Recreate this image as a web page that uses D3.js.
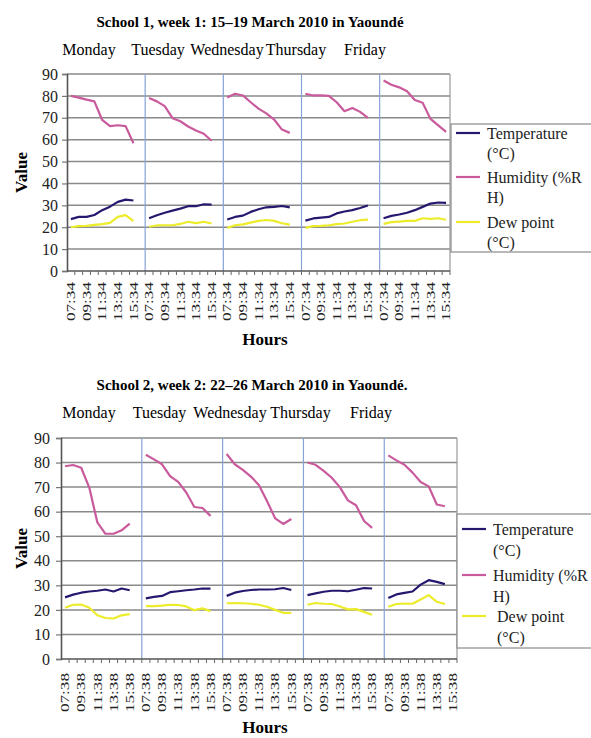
<!DOCTYPE html>
<html>
<head>
<meta charset="utf-8">
<script src="https://cdn.jsdelivr.net/npm/d3@7"></script>
<style>
  body { margin: 0; background: #fff; }
  svg { display: block; font-family: "Liberation Serif", "Times New Roman", serif; }
</style>
</head>
<body>
<script>
// Datos (un array por dia)
const days = ["Monday", "Tuesday", "Wednesday", "Thursday", "Friday"];
const slotsPerDay = [10, 10, 10, 10, 9];
const hours1 = ["07:34","08:34","09:34","10:34","11:34","12:34","13:34","14:34","15:34","16:34"];
const hours2 = ["07:38","08:38","09:38","10:38","11:38","12:38","13:38","14:38","15:38","16:38"];
const yTicks = [0, 10, 20, 30, 40, 50, 60, 70, 80, 90];
const seriesColors = ["#26186e", "#c95a9c", "#ecec2a"];

// Semana 1
const temp1 = [
  [23.7, 24.7, 24.7, 25.6, 27.8, 29.4, 31.6, 32.6, 32.2],
  [24.1, 25.5, 26.6, 27.6, 28.5, 29.6, 29.6, 30.5, 30.3],
  [23.5, 24.7, 25.3, 27.0, 28.2, 29.1, 29.3, 29.7, 29.1],
  [23.0, 24.0, 24.4, 24.7, 26.3, 27.2, 27.8, 28.8, 29.9],
  [24.1, 25.2, 25.8, 26.6, 27.8, 29.3, 30.8, 31.3, 31.1]
];
const hum1 = [
  [80.0, 79.2, 78.3, 77.5, 69.0, 66.2, 66.6, 66.2, 58.4],
  [79.0, 77.5, 75.3, 69.8, 68.4, 66.0, 64.2, 62.7, 59.5],
  [79.3, 81.0, 80.2, 77.1, 74.2, 72.0, 69.2, 64.6, 63.1],
  [81.0, 80.2, 80.2, 80.0, 77.1, 73.0, 74.5, 72.7, 70.0],
  [87.0, 85.1, 83.9, 82.1, 78.1, 76.9, 69.5, 66.5, 63.6]
];
const dew1 = [
  [20.0, 20.5, 20.6, 21.1, 21.4, 22.0, 24.7, 25.5, 22.8],
  [20.2, 20.8, 20.9, 20.9, 21.5, 22.5, 21.9, 22.5, 21.7],
  [19.7, 20.9, 21.3, 22.1, 22.9, 23.3, 22.9, 21.8, 21.2],
  [19.7, 20.5, 20.6, 20.9, 21.4, 21.7, 22.5, 23.2, 23.5],
  [21.5, 22.3, 22.6, 22.9, 22.9, 24.1, 23.8, 24.1, 23.4]
];

// Semana 2
const temp2 = [
  [25.1, 26.2, 27.0, 27.5, 27.8, 28.3, 27.5, 28.7, 28.0],
  [24.7, 25.3, 25.7, 27.2, 27.6, 28.0, 28.3, 28.7, 28.7],
  [25.7, 27.0, 27.7, 28.1, 28.3, 28.3, 28.4, 28.9, 28.1],
  [26.0, 26.7, 27.4, 27.8, 27.8, 27.6, 28.2, 28.9, 28.7],
  [24.8, 26.3, 26.9, 27.5, 30.3, 32.1, 31.4, 30.5]
];
const hum2 = [
  [78.5, 79.0, 77.9, 69.8, 55.6, 51.0, 51.0, 52.4, 55.1],
  [83.2, 81.3, 79.3, 74.5, 72.1, 67.8, 61.9, 61.5, 58.3],
  [83.5, 79.3, 77.0, 74.3, 70.8, 64.2, 57.3, 55.0, 57.0],
  [80.0, 79.1, 76.6, 73.8, 70.0, 64.6, 62.6, 56.2, 53.4],
  [82.9, 80.9, 79.1, 75.9, 72.1, 70.3, 62.9, 62.2]
];
const dew2 = [
  [20.9, 22.1, 22.2, 20.9, 17.8, 16.7, 16.5, 17.8, 18.3],
  [21.5, 21.5, 21.7, 22.1, 22.0, 21.4, 19.9, 20.6, 19.5],
  [22.7, 22.8, 22.7, 22.5, 22.1, 21.3, 20.0, 18.8, 18.8],
  [22.1, 22.8, 22.5, 22.4, 21.4, 20.2, 20.3, 19.2, 18.0],
  [21.3, 22.4, 22.6, 22.5, 24.2, 26.0, 23.3, 22.4]
];

const svg = d3.select("body").append("svg")
  .attr("width", 591)
  .attr("height", 738);

// Dibuja un panel completo (titulo, dias, ejes, lineas, leyenda)
function drawPanel(cfg) {
  const keys = [];
  days.forEach((d, di) => {
    for (let i = 0; i < slotsPerDay[di]; i++) keys.push(di + "-" + i);
  });

  const x = d3.scaleBand().domain(keys).range([cfg.left, cfg.right]).padding(0);
  const y = d3.scaleLinear().domain([0, 90]).range([cfg.bottom, cfg.top]);
  const bw = x.bandwidth();

  // Titulo
  svg.append("text")
    .attr("x", cfg.titleX).attr("y", cfg.titleY)
    .attr("text-anchor", "middle")
    .style("font-size", "15px").style("font-weight", "bold")
    .text(cfg.title);

  // Nombres de los dias
  const dayPos = d3.scalePoint().domain(days).range(cfg.dayRange);
  svg.selectAll(null).data(days).enter().append("text")
    .attr("x", d => dayPos(d)).attr("y", cfg.dayY)
    .attr("text-anchor", "middle")
    .style("font-size", "16px")
    .text(d => d);

  // Rejilla horizontal
  svg.append("g").selectAll("line").data(yTicks.filter(t => t > 0)).enter().append("line")
    .attr("x1", cfg.left).attr("x2", cfg.right)
    .attr("y1", d => y(d)).attr("y2", d => y(d))
    .attr("stroke", "#8a8a8a").attr("stroke-width", 1.5);

  // Borde derecho del area
  svg.append("line")
    .attr("x1", cfg.right).attr("x2", cfg.right)
    .attr("y1", y(90)).attr("y2", y(0))
    .attr("stroke", "#9a9a9a").attr("stroke-width", 1.2);

  // Separadores de dias
  svg.append("g").selectAll("line").data(days.slice(1)).enter().append("line")
    .attr("x1", (d, i) => x((i + 1) + "-0")).attr("x2", (d, i) => x((i + 1) + "-0"))
    .attr("y1", y(90)).attr("y2", y(0))
    .attr("stroke", "#86a3d6").attr("stroke-width", 1.2);

  // Eje Y
  const gy = svg.append("g")
    .attr("transform", `translate(${cfg.left},0)`)
    .call(d3.axisLeft(y).tickValues(yTicks).tickSize(5).tickPadding(cfg.yPad));
  gy.select(".domain").attr("stroke", "#555").attr("stroke-width", 1.6);
  gy.selectAll(".tick line").attr("stroke", "#777").attr("stroke-width", 1.2);
  gy.selectAll("text")
    .style("font-family", "'Liberation Serif', serif")
    .style("font-size", "16px").attr("fill", "#222");

  // Eje X: marcas en los limites de categoria
  svg.append("line")
    .attr("x1", cfg.left).attr("x2", cfg.right)
    .attr("y1", y(0)).attr("y2", y(0))
    .attr("stroke", "#555").attr("stroke-width", 1.6);
  svg.append("g").selectAll("line").data(keys).enter().append("line")
    .attr("x1", d => x(d) + bw).attr("x2", d => x(d) + bw)
    .attr("y1", y(0)).attr("y2", y(0) + 4)
    .attr("stroke", "#666").attr("stroke-width", 1);

  // Etiquetas de horas (una de cada dos)
  const gx = svg.append("g")
    .attr("transform", `translate(0,${y(0)})`)
    .call(d3.axisBottom(x).tickSize(0)
      .tickFormat(k => {
        const i = +k.split("-")[1];
        return i % 2 === 0 ? cfg.hours[i] : "";
      }));
  gx.select(".domain").remove();
  gx.selectAll("text")
    .attr("transform", "rotate(-90)")
    .attr("x", -cfg.labelGap).attr("y", 0).attr("dy", "0.35em")
    .style("text-anchor", "end")
    .style("font-family", "'Liberation Serif', serif")
    .style("font-size", "12px")
    .attr("textLength", d => (+d.split("-")[1] % 2 === 0 ? 39 : null))
    .attr("lengthAdjust", "spacingAndGlyphs")
    .attr("fill", "#222");

  // Titulos de ejes
  svg.append("text")
    .attr("transform", `translate(${cfg.valueX},${(y(0) + y(90)) / 2}) rotate(-90)`)
    .attr("text-anchor", "middle").attr("dy", "0.35em")
    .style("font-size", "17px").style("font-weight", "bold")
    .text("Value");
  svg.append("text")
    .attr("x", cfg.hoursX).attr("y", cfg.hoursY)
    .attr("text-anchor", "middle")
    .style("font-size", "17px").style("font-weight", "bold")
    .text("Hours");

  // Lineas: una por dia y por serie
  cfg.series.forEach((s, si) => {
    s.forEach((vals, di) => {
      const ln = d3.line()
        .x((v, i) => x(di + "-" + i) + bw / 2)
        .y(v => y(v));
      svg.append("path")
        .datum(vals)
        .attr("fill", "none")
        .attr("stroke", seriesColors[si])
        .attr("stroke-width", 2.2)
        .attr("stroke-linejoin", "round")
        .attr("d", ln);
    });
  });

  // Leyenda
  const lg = svg.append("g");
  lg.append("rect")
    .attr("x", cfg.legend.x).attr("y", cfg.legend.y)
    .attr("width", 200).attr("height", cfg.legend.h)
    .attr("fill", "#fff").attr("stroke", "#8a8a8a").attr("stroke-width", 1.2);
  const legendLines = [["Temperature", "(°C)"], ["Humidity (%R", "H)"], ["Dew point", "(°C)"]];
  legendLines.forEach((t, i) => {
    const ly = cfg.legend.items[i];
    const tx = cfg.legend.x + 36 + (i === 2 ? cfg.legend.dewIndent : 0);
    lg.append("line")
      .attr("x1", cfg.legend.x + 5).attr("x2", cfg.legend.x + 29)
      .attr("y1", ly).attr("y2", ly)
      .attr("stroke", seriesColors[i]).attr("stroke-width", 2.2);
    lg.append("text")
      .attr("x", tx).attr("y", ly)
      .attr("dy", "0.35em")
      .style("font-size", "16px").attr("fill", "#222")
      .text(t[0]);
    lg.append("text")
      .attr("x", tx).attr("y", ly + cfg.legend.lh)
      .attr("dy", "0.35em")
      .style("font-size", "16px").attr("fill", "#222")
      .text(t[1]);
  });
}

drawPanel({
  title: "School 1, week 1: 15–19 March 2010 in Yaoundé",
  titleX: 250, titleY: 27,
  dayRange: [89, 365], dayY: 55,
  left: 67, right: 450, top: 74, bottom: 271,
  yPad: 4,
  hours: hours1, labelGap: 11,
  valueX: 21, hoursX: 265, hoursY: 345,
  series: [temp1, hum1, dew1],
  legend: { x: 451, y: 124, h: 128, items: [133, 177, 222], lh: 20, dewIndent: 0 }
});

drawPanel({
  title: "School 2, week 2: 22–26 March 2010 in Yaoundé.",
  titleX: 252, titleY: 390,
  dayRange: [89, 371], dayY: 418,
  left: 61, right: 457, top: 438, bottom: 659,
  yPad: 6,
  hours: hours2, labelGap: 14,
  valueX: 21, hoursX: 265, hoursY: 733,
  series: [temp2, hum2, dew2],
  legend: { x: 457, y: 514, h: 134, items: [529, 575, 616], lh: 21, dewIndent: 4 }
});
</script>
</body>
</html>
